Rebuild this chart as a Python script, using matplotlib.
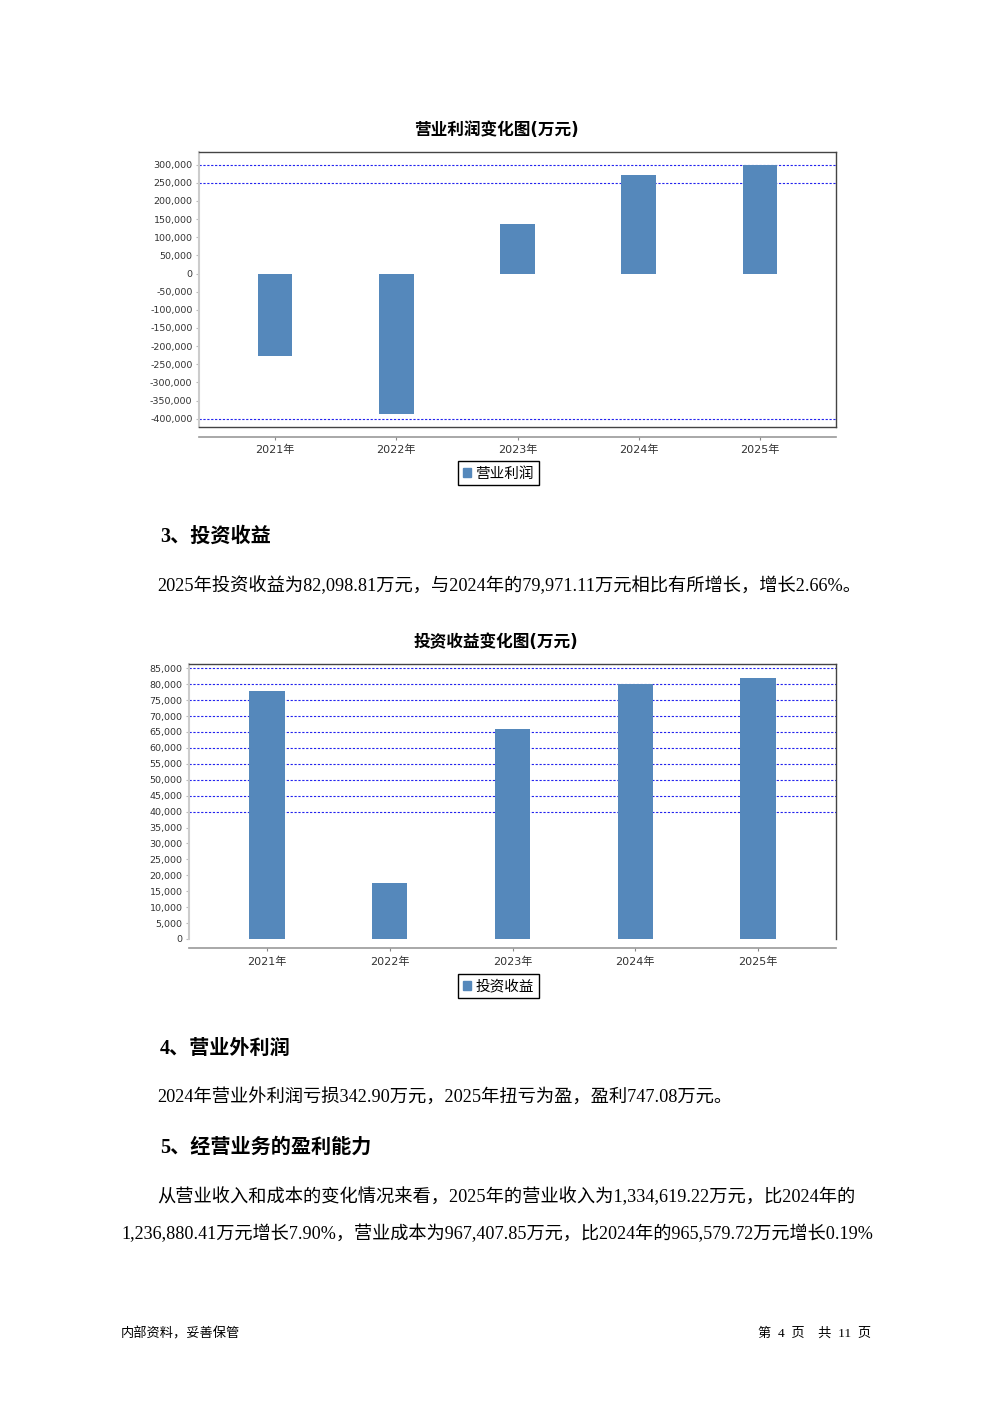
import numpy as np
import matplotlib
matplotlib.use('Agg')
import matplotlib.pyplot as plt
from matplotlib.ticker import FuncFormatter
from matplotlib.patches import Patch

plt.rcParams['font.family'] = ['DejaVu Sans', 'Noto Sans CJK SC']

# data
years = ['2021年', '2022年', '2023年', '2024年', '2025年']
op_profit = [-227000, -388000, 137500, 270300, 300200]      # 营业利润 (万元)
op_grid = [300000, 250000, -400000]
invest_income = [77800, 17600, 66000, 79971.11, 82098.81]   # 投资收益 (万元)
inv_grid = [40000, 45000, 50000, 55000, 60000, 65000, 70000, 75000, 80000, 85000]

W, H = 992, 1403
fig = plt.figure(figsize=(W / 100, H / 100), dpi=100)
fig.patch.set_facecolor('white')

BAR = '#5588bb'
TXT = ['Liberation Serif', 'Noto Sans CJK SC']


def box(l, r, t, b):
    return [l / W, 1 - b / H, (r - l) / W, (b - t) / H]


def bar_chart(rect, values, grid, ylim, yticks, xlim, width, title, title_y,
              legend_label, legend_y, frame_bottom):
    ax = fig.add_axes(rect)
    x = np.arange(len(years))
    for g in grid:
        ax.axhline(g, color='#2222ee', lw=0.8, ls=(0, (2, 1.5)), zorder=1)
    ax.bar(x, values, width=width, color=BAR, zorder=2, label=legend_label)
    ax.set_xlim(*xlim)
    ax.set_ylim(*ylim)
    ax.set_yticks(yticks)
    ax.yaxis.set_major_formatter(FuncFormatter(lambda v, p: f'{v:,.0f}'))
    ax.set_xticks(x)
    ax.set_xticklabels(years)
    ax.tick_params(axis='y', length=2, width=0.8, color='#bbbbbb', pad=2.5,
                   labelsize=6.8, labelcolor='#333333')
    ax.tick_params(axis='x', length=2, width=0.8, color='#888888', pad=3.8,
                   labelsize=8, labelcolor='#333333')
    for s in ['top', 'right']:
        ax.spines[s].set_color('#444444')
        ax.spines[s].set_linewidth(1.0)
    ax.spines['left'].set_color('#cccccc')
    ax.spines['left'].set_linewidth(1.5)
    ax.spines['bottom'].set_position(('outward', 6.8))
    ax.spines['bottom'].set_color('#999999')
    ax.spines['bottom'].set_linewidth(1.2)
    if frame_bottom:
        ax.plot([0, 1], [0, 0], transform=ax.transAxes, color='#444444',
                lw=1.0, clip_on=False, zorder=3)
    fig.text(496 / W, 1 - title_y / H, title, ha='center', va='center',
             fontsize=12, fontweight='bold', family=['DejaVu Sans', 'Noto Sans CJK SC'])
    ax.legend(handles=[Patch(color=BAR, label=legend_label)], loc='center',
              bbox_to_anchor=(498.5 / W, 1 - legend_y / H), bbox_transform=fig.transFigure,
              fancybox=False, edgecolor='black', framealpha=1, fontsize=10.5,
              handlelength=0.55, handleheight=0.55, handletextpad=0.3,
              borderpad=0.32, borderaxespad=0)
    ax.get_legend().get_frame().set_linewidth(1.0)
    return ax


bar_chart(box(198.7, 836.3, 152.3, 427.3), op_profit, op_grid, (-423700, 334200),
          np.arange(-400000, 300001, 50000), (-0.63, 4.63), 0.285,
          '营业利润变化图(万元)', 130, '营业利润', 473, True)

bar_chart(box(188.7, 836.3, 664, 939), invest_income, inv_grid, (0, 86350),
          np.arange(0, 85001, 5000), (-0.638, 4.638), 0.288,
          '投资收益变化图(万元)', 642, '投资收益', 986, False)


def line(x, y, s, bold=False, size=13.15, ha='left'):
    fig.text(x / W, 1 - y / H, s, ha=ha, va='center', fontsize=size,
             fontweight='bold' if bold else 'normal', family=TXT)


line(160, 537, '3、投资收益', bold=True, size=14.5)
line(157, 586, '2025年投资收益为82,098.81万元，与2024年的79,971.11万元相比有所增长，增长2.66%。')
line(160, 1049, '4、营业外利润', bold=True, size=14.5)
line(157, 1098, '2024年营业外利润亏损342.90万元，2025年扭亏为盈，盈利747.08万元。')
line(160, 1148, '5、经营业务的盈利能力', bold=True, size=14.5)
line(157, 1197, '从营业收入和成本的变化情况来看，2025年的营业收入为1,334,619.22万元，比2024年的')
line(121, 1234, '1,236,880.41万元增长7.90%，营业成本为967,407.85万元，比2024年的965,579.72万元增长0.19%',
     size=13.1)
line(121, 1334, '内部资料，妥善保管', size=9.5)
line(871, 1334, '第  4  页    共  11  页', size=9.5, ha='right')

fig.savefig('out.png', dpi=100, facecolor='white')
